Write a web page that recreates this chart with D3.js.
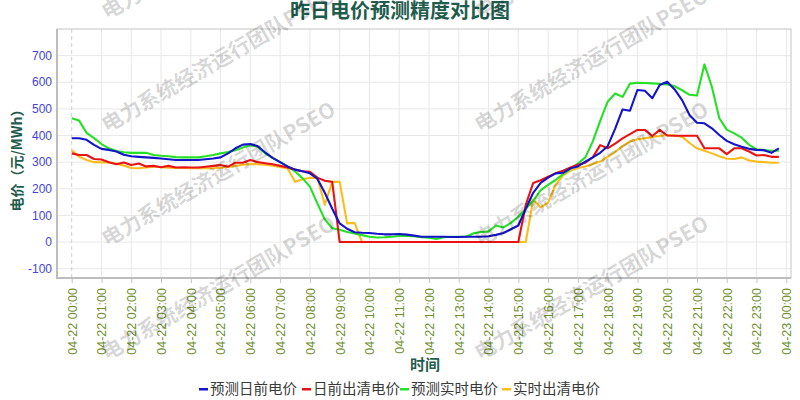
<!DOCTYPE html>
<html><head><meta charset="utf-8">
<script src="https://cdn.jsdelivr.net/npm/d3@7"></script>
<style>body{margin:0;background:#fff}svg{display:block}</style>
</head><body>
<svg id="c" width="800" height="400"></svg>
<script>
// ---------- data ----------
const titleText = "昨日电价预测精度对比图";
const yAxisTitle = "电价（元/MWh）";
const xAxisTitle = "时间";
const watermarkText = "电力系统经济运行团队PSEO";
const seriesNames = ["预测日前电价", "日前出清电价", "预测实时电价", "实时出清电价"];
const seriesColors = ["#1414c8", "#e81414", "#26e026", "#fbbd1c"];
const startTime = new Date(2024, 3, 22, 0, 0);
const endTime = new Date(2024, 3, 23, 0, 0);
const stepMinutes = 15;
const yTicks = [-100, 0, 100, 200, 300, 400, 500, 600, 700];

const dayAheadForecast = [
390,390,384,365,350,346,340,328,322,320,
318,316,314,311,308,308,308,308,311,314,
318,333,352,366,368,360,336,316,300,284,
272,266,258,238,185,125,70,50,37,35,
34,31,29,29,30,28,24,20,20,20,
20,19,19,20,20,20,22,27,34,48,
62,125,185,222,242,258,260,277,284,302,
318,335,360,425,498,493,571,568,540,590,
602,573,533,477,448,446,427,402,380,367,
358,350,346,345,335,352];
const dayAheadCleared = [
333,327,327,312,310,300,292,299,289,295,
284,286,281,286,280,281,280,280,283,286,
289,283,298,298,308,300,296,292,286,280,
272,266,264,242,230,226,0,0,0,0,
0,0,0,0,0,0,0,0,0,0,
0,0,0,0,0,0,0,0,0,0,
0,140,222,232,245,258,268,280,290,298,
318,364,352,370,389,405,421,421,398,421,
400,399,399,399,399,352,352,352,330,352,
352,340,325,327,320,320];
const realTimeForecast = [
465,456,410,390,368,352,342,337,335,335,
335,327,324,322,319,318,318,318,322,327,
333,338,345,355,364,358,333,315,300,283,
265,240,208,145,85,52,46,38,32,26,
20,17,18,20,23,23,22,18,16,12,
18,20,20,20,33,38,40,62,55,72,
95,125,155,195,215,233,255,275,295,318,
378,455,527,558,545,595,598,597,596,594,
592,585,570,553,550,667,583,465,422,408,
392,365,348,345,343,343];
const realTimeCleared = [
345,320,308,300,299,299,295,287,278,277,
280,284,281,279,278,278,277,277,277,277,
279,282,286,290,293,292,290,287,282,276,
226,236,241,242,140,226,226,70,72,0,
0,0,0,0,0,0,0,0,0,0,
0,0,0,0,0,0,0,0,0,0,
0,0,160,130,148,215,250,268,278,284,
293,302,320,338,360,378,386,390,395,398,
402,400,395,372,352,343,333,322,313,312,
318,306,302,300,298,298];
const allSeries = [dayAheadForecast, dayAheadCleared, realTimeForecast, realTimeCleared];

// ---------- layout ----------
const svg = d3.select("#c");
const plot = {left: 57, right: 791, top: 29, bottom: 278};
const x = d3.scaleTime().domain([startTime, endTime]).range([71.7, 786.3]);
const y = d3.scaleLinear().domain([-135, 800]).range([plot.bottom, plot.top]);
const timeAt = i => new Date(startTime.getTime() + i * stepMinutes * 60000);
const hourTicks = d3.timeHour.every(1).range(startTime, new Date(endTime.getTime() + 1));

// grid
const g = svg.append("g");
g.selectAll(".hg").data(yTicks).join("line")
  .attr("x1", plot.left).attr("x2", plot.right)
  .attr("y1", d => y(d)).attr("y2", d => y(d))
  .attr("stroke", "#e8e8e8").attr("stroke-width", 1);
g.selectAll(".vg").data(hourTicks.slice(1)).join("line")
  .attr("x1", d => x(d)).attr("x2", d => x(d))
  .attr("y1", plot.top).attr("y2", plot.bottom)
  .attr("stroke", "#e8e8e8").attr("stroke-width", 1);
g.append("line")
  .attr("x1", x(startTime)).attr("x2", x(startTime))
  .attr("y1", plot.top).attr("y2", plot.bottom)
  .attr("stroke", "#cfcfcf").attr("stroke-dasharray", "4,3");

// frame
g.append("rect").attr("x", plot.left).attr("y", plot.top)
  .attr("width", plot.right - plot.left).attr("height", plot.bottom - plot.top)
  .attr("fill", "none").attr("stroke", "#c4c4c4").attr("stroke-width", 1);
g.append("line").attr("x1", plot.left).attr("x2", plot.left).attr("y1", plot.top).attr("y2", plot.bottom + 1)
  .attr("stroke", "#bdbdbd").attr("stroke-width", 2);
g.append("line").attr("x1", plot.left).attr("x2", plot.right).attr("y1", plot.bottom).attr("y2", plot.bottom)
  .attr("stroke", "#bdbdbd").attr("stroke-width", 2);

// x axis
const xAxis = d3.axisBottom(x).tickValues(hourTicks).tickFormat(d3.timeFormat("%m-%d %H:%M")).tickSize(4);
const xa = svg.append("g").attr("transform", `translate(0,${plot.bottom + 1})`).call(xAxis);
xa.select(".domain").remove();
xa.selectAll(".tick line").attr("stroke", "#c4c4c4");
xa.selectAll(".tick text")
  .attr("transform", "rotate(-90)")
  .attr("x", -9).attr("y", 0).attr("dy", "0.35em")
  .attr("text-anchor", "end")
  .attr("fill", "#6e8f2e")
  .style("font-family", "'Liberation Sans', Arial, sans-serif")
  .style("font-size", "12.5px");

// y labels
svg.append("g").selectAll("text").data(yTicks).join("text")
  .attr("x", 52).attr("y", d => y(d)).attr("dy", "0.35em")
  .attr("text-anchor", "end").attr("fill", "#4343dc")
  .style("font-family", "'Liberation Sans', Arial, sans-serif").style("font-size", "12px")
  .text(d => d);

// lines (draw in reverse legend order so blue ends on top)
const line = d3.line().x((d, i) => x(timeAt(i))).y(d => y(d));
const order = [3, 2, 1, 0];
svg.append("g").selectAll("path").data(order).join("path")
  .attr("d", k => line(allSeries[k]))
  .attr("fill", "none").attr("stroke", k => seriesColors[k])
  .attr("stroke-width", 2.1).attr("stroke-linejoin", "round");

// titles
const cjk = "'Noto Sans CJK SC', 'Noto Sans', sans-serif";
svg.append("text").attr("x", 400).attr("y", 18).attr("text-anchor", "middle")
  .attr("fill", "#1f5c4e").style("font-family", cjk).style("font-weight", "bold").style("font-size", "20px")
  .text(titleText);
svg.append("text").attr("transform", "translate(22,157) rotate(-90)").attr("text-anchor", "middle")
  .attr("fill", "#1f5c4e").style("font-family", cjk).style("font-weight", "bold").style("font-size", "14px")
  .text(yAxisTitle);
svg.append("text").attr("x", 425).attr("y", 370).attr("text-anchor", "middle")
  .attr("fill", "#1f5c4e").style("font-family", cjk).style("font-weight", "bold").style("font-size", "15px")
  .text(xAxisTitle);

// legend
const legend = svg.append("g");
const legendX = [199, 302, 400, 502];
seriesNames.forEach((name, k) => {
  legend.append("rect").attr("x", legendX[k]).attr("y", 388).attr("width", 9).attr("height", 2.5)
    .attr("fill", seriesColors[k]);
  legend.append("text").attr("x", legendX[k] + 11).attr("y", 389).attr("dy", "0.35em")
    .attr("fill", "#3a3a3a").style("font-family", cjk).style("font-size", "14.5px").text(name);
});

// watermarks
const wmCols = [107, 480];
const wmRows = [20, 133, 247, 361];
const wm = svg.append("g").attr("pointer-events", "none");
wmCols.forEach(cx => wmRows.forEach(ry => {
  wm.append("text").attr("transform", `translate(${cx},${ry}) rotate(-30)`)
    .attr("fill", "#000").attr("fill-opacity", 0.17)
    .style("font-family", cjk).style("font-weight", "bold").style("font-size", "21px")
    .text(watermarkText);
}));
</script>
</body></html>
